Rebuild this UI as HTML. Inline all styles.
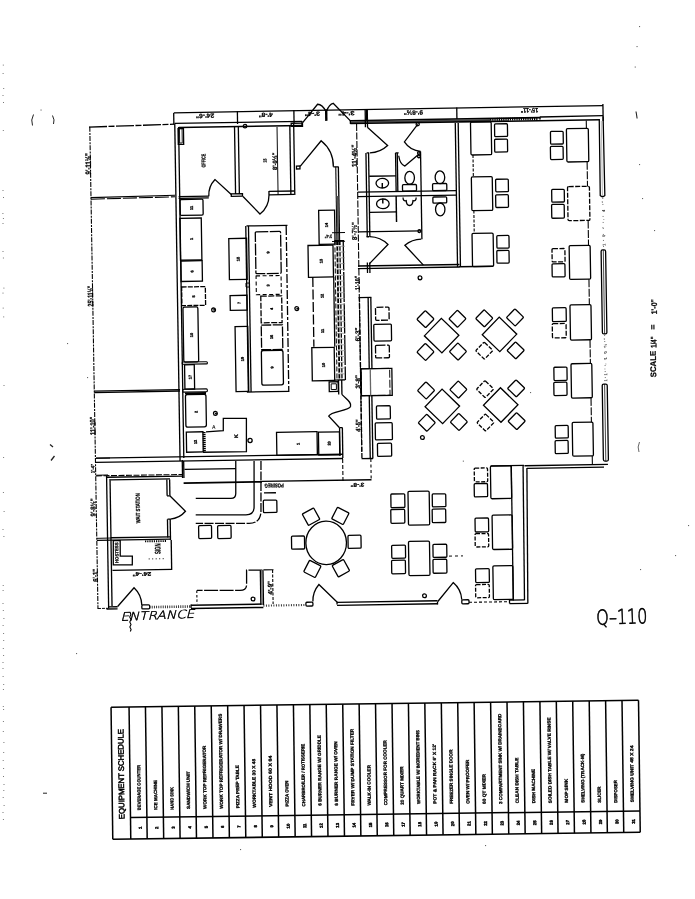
<!DOCTYPE html>
<html lang="en"><head><meta charset="utf-8"><title>Q-110 Floor Plan and Equipment Schedule</title>
<style>html,body{margin:0;padding:0;background:#fff;}body{width:695px;height:899px;overflow:hidden;font-family:"Liberation Sans",sans-serif;}svg text{white-space:pre;}</style>
</head><body>
<svg width="695" height="899" viewBox="0 0 695 899" style="display:block;filter:grayscale(1)">
<rect width="695" height="899" fill="#fff"/>
<g fill="none" stroke="#222" stroke-width="1"><rect x="2.8" y="64.6" width="1" height="1" fill="#777" stroke="none"/>
<rect x="2.6" y="73.0" width="1" height="1" fill="#777" stroke="none"/>
<rect x="3.2" y="88.0" width="1" height="1" fill="#777" stroke="none"/>
<rect x="2.5" y="95.0" width="1" height="1" fill="#777" stroke="none"/>
<rect x="3.0" y="102.0" width="1" height="1" fill="#777" stroke="none"/>
<rect x="2.8" y="130.0" width="1" height="1" fill="#777" stroke="none"/>
<rect x="2.5" y="190.0" width="1" height="1" fill="#777" stroke="none"/>
<rect x="3.0" y="197.0" width="1" height="1" fill="#777" stroke="none"/>
<rect x="2.4" y="213.0" width="1" height="1" fill="#777" stroke="none"/>
<rect x="2.9" y="218.0" width="1" height="1" fill="#777" stroke="none"/>
<rect x="2.5" y="223.0" width="1" height="1" fill="#777" stroke="none"/>
<rect x="2.5" y="251.0" width="1" height="1" fill="#777" stroke="none"/>
<rect x="2.9" y="257.5" width="1" height="1" fill="#777" stroke="none"/>
<rect x="3.4" y="287.6" width="1" height="1" fill="#777" stroke="none"/>
<rect x="2.5" y="292.6" width="1" height="1" fill="#777" stroke="none"/>
<rect x="2.7" y="307.6" width="1" height="1" fill="#777" stroke="none"/>
<rect x="3.2" y="316.4" width="1" height="1" fill="#777" stroke="none"/>
<rect x="3.5" y="385.0" width="1" height="1" fill="#777" stroke="none"/>
<rect x="3.1" y="457.0" width="1" height="1" fill="#777" stroke="none"/>
<rect x="2.9" y="492.0" width="1" height="1" fill="#777" stroke="none"/>
<rect x="3.6" y="511.0" width="1" height="1" fill="#777" stroke="none"/>
<rect x="2.5" y="529.0" width="1" height="1" fill="#777" stroke="none"/>
<rect x="3.4" y="536.0" width="1" height="1" fill="#777" stroke="none"/>
<rect x="2.7" y="585.0" width="1" height="1" fill="#777" stroke="none"/>
<rect x="2.6" y="590.0" width="1" height="1" fill="#777" stroke="none"/>
<rect x="2.5" y="603.0" width="1" height="1" fill="#777" stroke="none"/>
<rect x="2.8" y="610.0" width="1" height="1" fill="#777" stroke="none"/>
<rect x="3.4" y="618.0" width="1" height="1" fill="#777" stroke="none"/>
<rect x="2.6" y="625.0" width="1" height="1" fill="#777" stroke="none"/>
<rect x="3.1" y="633.0" width="1" height="1" fill="#777" stroke="none"/>
<rect x="3.2" y="640.0" width="1" height="1" fill="#777" stroke="none"/>
<rect x="2.8" y="648.0" width="1" height="1" fill="#777" stroke="none"/>
<rect x="3.1" y="655.0" width="1" height="1" fill="#777" stroke="none"/>
<rect x="2.5" y="662.0" width="1" height="1" fill="#777" stroke="none"/>
<rect x="2.5" y="668.0" width="1" height="1" fill="#777" stroke="none"/>
<rect x="2.6" y="676.0" width="1" height="1" fill="#777" stroke="none"/>
<rect x="3.2" y="684.0" width="1" height="1" fill="#777" stroke="none"/>
<rect x="2.9" y="689.0" width="1" height="1" fill="#777" stroke="none"/>
<rect x="2.8" y="706.0" width="1" height="1" fill="#777" stroke="none"/>
<rect x="3.1" y="709.0" width="1" height="1" fill="#777" stroke="none"/>
<rect x="2.9" y="721.0" width="1" height="1" fill="#777" stroke="none"/>
<rect x="2.8" y="731.0" width="1" height="1" fill="#777" stroke="none"/>
<rect x="3.4" y="742.0" width="1" height="1" fill="#777" stroke="none"/>
<rect x="3.2" y="752.0" width="1" height="1" fill="#777" stroke="none"/>
<rect x="2.7" y="760.0" width="1" height="1" fill="#777" stroke="none"/>
<rect x="3.1" y="768.0" width="1" height="1" fill="#777" stroke="none"/>
<rect x="3.0" y="776.0" width="1" height="1" fill="#777" stroke="none"/>
<rect x="3.5" y="784.0" width="1" height="1" fill="#777" stroke="none"/>
<rect x="3.3" y="790.0" width="1" height="1" fill="#777" stroke="none"/>
<rect x="2.7" y="797.0" width="1" height="1" fill="#777" stroke="none"/>
<rect x="3.6" y="805.0" width="1" height="1" fill="#777" stroke="none"/>
<rect x="2.5" y="812.0" width="1" height="1" fill="#777" stroke="none"/>
<rect x="2.9" y="819.0" width="1" height="1" fill="#777" stroke="none"/>
<path d="M33.5 114.5 Q30.5 120 32.5 125.5" />
<path d="M52.5 115.5 Q55 120 53.5 124" />
<path d="M50 444.5 l3 2.5 M54.5 456 l-3.5 4.5" stroke-width="1.3"/>
<path d="M636 111.5 l0.6 3.5 l0.5 3.5" stroke-width="1.1"/>
<path d="M43 793.2 h4" stroke-width="1"/>
<path d="M639.5 442 Q637 447 639 452" stroke-width="0.9" stroke="#555"/>
<rect x="67.0" y="343.0" width="1.1" height="1.1" fill="#666" stroke="none"/>
<rect x="87.0" y="377.0" width="1.1" height="1.1" fill="#666" stroke="none"/>
<rect x="40.5" y="109.5" width="1.1" height="1.1" fill="#666" stroke="none"/>
<rect x="76.0" y="653.0" width="1.1" height="1.1" fill="#666" stroke="none"/>
<rect x="639.0" y="26.0" width="1.1" height="1.1" fill="#666" stroke="none"/>
<rect x="636.5" y="46.0" width="1.1" height="1.1" fill="#666" stroke="none"/>
<rect x="634.7" y="66.5" width="1.1" height="1.1" fill="#666" stroke="none"/>
<rect x="639.0" y="164.0" width="1.1" height="1.1" fill="#666" stroke="none"/>
<rect x="642.0" y="198.0" width="1.1" height="1.1" fill="#666" stroke="none"/>
<rect x="654.0" y="230.0" width="1.1" height="1.1" fill="#666" stroke="none"/>
<rect x="240.0" y="849.0" width="1.1" height="1.1" fill="#666" stroke="none"/>
<rect x="485.0" y="845.0" width="1.1" height="1.1" fill="#666" stroke="none"/>
<rect x="688.0" y="525.0" width="1.1" height="1.1" fill="#666" stroke="none"/>
<rect x="675.0" y="555.0" width="1.1" height="1.1" fill="#666" stroke="none"/>
<rect x="640.0" y="569.0" width="1.1" height="1.1" fill="#666" stroke="none"/>
<rect x="462.8" y="460.6" width="1.1" height="1.1" fill="#666" stroke="none"/>
<rect x="530.0" y="392.0" width="1.1" height="1.1" fill="#666" stroke="none"/></g>
<g transform="rotate(-0.9 347.5 449.5)" fill="none" stroke="#000" stroke-width="1.3" stroke-linecap="butt">
<line x1="94.9" y1="122.8" x2="95.5" y2="605.1" stroke-dasharray="5 1.2 2 1" stroke-width="1.08"/>
<line x1="94.1" y1="123.1" x2="179.6" y2="121.5" stroke-dasharray="18 1.5 6 1.5"/>
<line x1="94.7" y1="193.6" x2="179.0" y2="192.6" stroke-width="1.08"/>
<line x1="94.9" y1="195.2" x2="179.0" y2="194.1" stroke-dasharray="14 2" stroke-width="1.08"/>
<line x1="95.2" y1="387.2" x2="181.0" y2="387.0"/>
<line x1="95.2" y1="388.6" x2="180.9" y2="388.4"/>
<line x1="95.9" y1="454.3" x2="109.9" y2="454.3" stroke-width="0.96"/>
<line x1="96.1" y1="471.3" x2="107.6" y2="471.2" stroke-width="0.96"/>
<line x1="95.6" y1="534.4" x2="109.6" y2="534.3" stroke-width="0.96"/>
<line x1="95.5" y1="604.6" x2="105.5" y2="604.5" stroke-dasharray="3 1" stroke-width="0.96"/>
<line x1="179.1" y1="110.1" x2="608.4" y2="109.6"/>
<line x1="179.0" y1="110.3" x2="179.0" y2="121.8"/>
<line x1="242.7" y1="109.3" x2="242.7" y2="122.3"/>
<line x1="299.2" y1="109.2" x2="299.2" y2="122.2"/>
<line x1="371.8" y1="109.3" x2="371.8" y2="121.3"/>
<line x1="462.1" y1="109.3" x2="462.1" y2="120.8"/>
<line x1="608.3" y1="108.1" x2="608.3" y2="125.1"/>
<line x1="179.7" y1="120.7" x2="307.2" y2="120.7" stroke-width="1.44"/>
<line x1="183.9" y1="124.9" x2="307.1" y2="124.9" stroke-width="1.44"/>
<line x1="307.1" y1="120.3" x2="307.1" y2="124.3"/>
<line x1="179.9" y1="121.3" x2="179.9" y2="458.4" stroke-width="1.32"/>
<line x1="183.7" y1="124.4" x2="183.7" y2="455.4" stroke-width="1.32"/>
<line x1="355.6" y1="120.8" x2="545.2" y2="120.7" stroke-width="1.56"/>
<line x1="545.2" y1="120.1" x2="608.2" y2="119.7" stroke-width="1.44"/>
<line x1="545.2" y1="119.9" x2="545.2" y2="122.7"/>
<line x1="355.5" y1="122.2" x2="495.2" y2="122.3" stroke="#444" stroke-width="1.92"/>
<line x1="355.5" y1="123.6" x2="605.1" y2="123.8" stroke-width="1.56"/>
<line x1="355.5" y1="120.1" x2="355.5" y2="124.1"/>
<line x1="495.2" y1="121.7" x2="543.2" y2="121.7" stroke-dasharray="1.2 1" stroke-width="2.88"/>
<path d="M 604.4 124.0 L 604.2 199.5 Q 606.4 202.0 608.8 199.6 L 608.3 120.6"/>
<line x1="606.4" y1="125.0" x2="606.4" y2="200.0" stroke="#888" stroke-width="0.6"/>
<rect x="604.2" y="254.0" width="4.5" height="84.0" rx="1.5"/>
<line x1="606.4" y1="254.0" x2="606.4" y2="338.1" stroke-width="0.72"/>
<rect x="603.2" y="388.1" width="5.0" height="77.0" rx="1.5"/>
<line x1="605.6" y1="388.0" x2="605.6" y2="465.1" stroke-width="0.72"/>
<line x1="606.7" y1="202.0" x2="606.7" y2="253.0" stroke-dasharray="1 5" stroke="#555" stroke-width="0.84"/>
<line x1="606.4" y1="339.1" x2="606.4" y2="387.1" stroke-dasharray="1 5" stroke="#555" stroke-width="0.84"/>
<line x1="524.2" y1="468.5" x2="607.7" y2="468.5" stroke-width="1.32"/>
<line x1="526.7" y1="471.2" x2="603.7" y2="471.2" stroke-width="1.32"/>
<line x1="522.8" y1="468.4" x2="522.1" y2="603.0" stroke-width="1.32"/>
<line x1="526.6" y1="470.8" x2="525.4" y2="606.4" stroke-width="1.32"/>
<line x1="507.1" y1="602.6" x2="522.0" y2="602.6" stroke-width="1.32"/>
<line x1="507.1" y1="606.2" x2="525.4" y2="606.2" stroke-width="1.32"/>
<line x1="507.1" y1="602.5" x2="507.1" y2="606.0"/>
<line x1="95.9" y1="454.2" x2="342.9" y2="454.2" stroke-width="1.32"/>
<line x1="95.8" y1="458.4" x2="342.9" y2="458.4" stroke-width="1.32"/>
<line x1="95.6" y1="471.9" x2="182.1" y2="471.9" stroke-dasharray="6 1.5" stroke-width="1.08"/>
<line x1="182.1" y1="457.4" x2="182.1" y2="475.4"/>
<line x1="106.6" y1="473.5" x2="182.0" y2="473.5" stroke-width="1.32"/>
<line x1="110.1" y1="476.1" x2="169.6" y2="476.1" stroke-width="1.32"/>
<line x1="106.2" y1="472.2" x2="106.2" y2="604.7" stroke-width="1.32"/>
<line x1="109.6" y1="475.3" x2="109.6" y2="602.3" stroke-width="1.32"/>
<rect x="183.1" y="126.0" width="5.4" height="15.8"/>
<rect x="184.5" y="126.0" width="2.6" height="14.4" stroke-width="0.84"/>
<line x1="239.6" y1="125.3" x2="239.6" y2="192.3" stroke-width="1.32"/>
<line x1="243.4" y1="125.3" x2="243.4" y2="192.3" stroke-width="1.32"/>
<rect x="235.3" y="192.1" width="11.2" height="2.5"/>
<circle cx="250.1" cy="124.6" r="1.8"/>
<line x1="182.6" y1="194.0" x2="212.8" y2="194.0" stroke-width="1.32"/>
<line x1="182.6" y1="195.8" x2="212.8" y2="195.8" stroke-width="1.32"/>
<path d="M235.3 192.7 L219.3 177.5 A22.2 22.2 0 0 0 212.8 194.2"/>
<line x1="294.9" y1="125.1" x2="294.9" y2="194.1" stroke-width="1.32"/>
<line x1="298.8" y1="123.2" x2="298.8" y2="194.2" stroke-width="1.32"/>
<line x1="282.1" y1="125.9" x2="282.1" y2="193.9" stroke-width="0.96"/>
<line x1="273.1" y1="190.2" x2="298.3" y2="190.2" stroke-width="1.32"/>
<line x1="273.0" y1="193.6" x2="298.2" y2="193.6" stroke-width="1.32"/>
<line x1="273.0" y1="189.8" x2="273.0" y2="193.8"/>
<path d="M247.0 194.9 L263.7 212.7 A24.4 24.4 0 0 0 273.0 193.8"/>
<rect x="300.9" y="165.3" width="3.5" height="2.9"/>
<path d="M304.6 165.6 L326.0 140.4 A33.0 33.0 0 0 1 337.8 166.6"/>
<line x1="337.8" y1="166.7" x2="343.0" y2="166.7"/>
<line x1="340.2" y1="166.7" x2="340.2" y2="244.9" stroke-width="1.08"/>
<line x1="342.8" y1="166.7" x2="342.8" y2="244.9" stroke-width="1.32"/>
<line x1="341.5" y1="195.9" x2="341.5" y2="244.9" stroke="#555" stroke-width="1.92"/>
<line x1="361.7" y1="124.2" x2="361.7" y2="452.2" stroke-dasharray="7 1.5" stroke-width="1.08"/>
<line x1="370.5" y1="110.3" x2="370.5" y2="127.6"/>
<line x1="372.6" y1="110.4" x2="372.6" y2="127.7"/>
<line x1="460.4" y1="124.7" x2="460.4" y2="268.8" stroke-width="1.32"/>
<line x1="463.3" y1="124.8" x2="463.3" y2="268.8" stroke-width="1.32"/>
<path d="M372.4 127.7 L392.4 146.1 A27.2 27.2 0 0 1 374.6 153.2"/>
<circle cx="422.8" cy="125.3" r="1.6"/>
<path d="M422.8 125.6 L409.2 142.9 A22.0 22.0 0 0 0 425.3 152.7"/>
<line x1="370.6" y1="153.3" x2="370.6" y2="237.3" stroke-width="1.32"/>
<line x1="373.2" y1="153.4" x2="373.2" y2="237.4" stroke-width="1.32"/>
<line x1="371.3" y1="153.3" x2="373.9" y2="153.3"/>
<line x1="369.9" y1="237.1" x2="372.5" y2="237.1"/>
<line x1="400.2" y1="153.8" x2="400.2" y2="192.3" stroke-width="1.32"/>
<line x1="401.9" y1="153.8" x2="401.9" y2="192.3" stroke-width="1.32"/>
<line x1="400.1" y1="153.7" x2="403.3" y2="153.7"/>
<path d="M 403.3 156.6 Q 404.5 165.4 409.3 167.0 L 423.7 155.2"/>
<circle cx="423.5" cy="154.2" r="1.3"/>
<circle cx="423.5" cy="157.6" r="1.3"/>
<line x1="425.2" y1="152.7" x2="425.2" y2="240.4" stroke-width="1.32"/>
<line x1="373.5" y1="176.6" x2="400.2" y2="176.6"/>
<ellipse cx="386.5" cy="183.8" rx="6.3" ry="4.8"/>
<line x1="386.5" y1="183.6" x2="386.4" y2="188.6" stroke-width="1.44"/>
<ellipse cx="413.9" cy="178.8" rx="4.8" ry="6.4"/>
<rect x="406.6" y="185.6" width="14.0" height="6.4" rx="1"/>
<ellipse cx="444.2" cy="178.8" rx="4.8" ry="6.4"/>
<rect x="436.7" y="185.1" width="14.2" height="7.0" rx="1"/>
<line x1="361.8" y1="192.4" x2="460.4" y2="192.4" stroke-width="1.32"/>
<line x1="361.8" y1="196.8" x2="460.3" y2="196.8" stroke-width="1.32"/>
<ellipse cx="386.7" cy="204.4" rx="6.3" ry="4.8"/>
<line x1="386.7" y1="199.4" x2="386.7" y2="204.1" stroke-width="1.44"/>
<line x1="373.6" y1="212.7" x2="400.5" y2="212.7"/>
<line x1="400.1" y1="196.8" x2="400.1" y2="222.8" stroke-width="1.44"/>
<path d="M 407.0 198.4 Q 406.9 202.4 410.1 201.6 Q 410.3 206.5 413.4 206.5 Q 416.5 206.6 416.9 201.7 Q 420.1 202.6 420.1 198.6"/>
<rect x="436.8" y="198.4" width="13.8" height="6.1" rx="1"/>
<ellipse cx="444.0" cy="210.9" rx="4.7" ry="6.4"/>
<line x1="362.0" y1="232.1" x2="424.6" y2="232.1" stroke-width="1.32"/>
<circle cx="422.8" cy="232.3" r="1.4"/>
<path d="M372.2 264.2 L391.2 245.1 A26.9 26.9 0 0 0 373.2 237.0"/>
<path d="M426.3 266.3 L408.1 246.2 A27.1 27.1 0 0 1 424.5 240.4"/>
<line x1="360.9" y1="266.2" x2="462.4" y2="266.2" stroke-width="1.44"/>
<line x1="360.8" y1="268.8" x2="462.4" y2="268.8" stroke-width="1.44"/>
<line x1="370.3" y1="262.8" x2="370.3" y2="273.3"/>
<line x1="372.7" y1="262.9" x2="372.7" y2="273.4"/>
<circle cx="422.7" cy="279.0" r="1.9"/>
<rect x="184.0" y="196.9" width="22.9" height="15.9" rx="1.2"/>
<text transform="translate(196.7 205.6) rotate(-90)" font-size="3.9" text-anchor="middle" font-weight="bold" font-family="Liberation Sans, sans-serif" fill="#000" stroke="#000" stroke-width="0.3">11</text>
<rect x="183.5" y="215.7" width="21.4" height="41.9"/>
<text transform="translate(196.2 236.6) rotate(-90)" font-size="3.9" text-anchor="middle" font-weight="bold" font-family="Liberation Sans, sans-serif" fill="#000" stroke="#000" stroke-width="0.3">1</text>
<rect x="183.8" y="258.4" width="21.3" height="20.5"/>
<text transform="translate(196.2 269.1) rotate(-90)" font-size="3.9" text-anchor="middle" font-weight="bold" font-family="Liberation Sans, sans-serif" fill="#000" stroke="#000" stroke-width="0.3">6</text>
<rect x="184.2" y="284.4" width="23.7" height="18.7" stroke-dasharray="5 1.2"/>
<text transform="translate(197.3 294.1) rotate(-90)" font-size="3.9" text-anchor="middle" font-weight="bold" font-family="Liberation Sans, sans-serif" fill="#000" stroke="#000" stroke-width="0.3">5</text>
<rect x="185.2" y="304.6" width="14.9" height="54.9" rx="1.5"/>
<text transform="translate(194.7 332.6) rotate(-90)" font-size="3.9" text-anchor="middle" font-weight="bold" font-family="Liberation Sans, sans-serif" fill="#000" stroke="#000" stroke-width="0.3">10</text>
<rect x="183.5" y="359.5" width="25.3" height="2.2" rx="1" stroke-width="1.08"/>
<rect x="185.9" y="362.3" width="9.7" height="24.3"/>
<text transform="translate(192.6 374.6) rotate(-90)" font-size="3.9" text-anchor="middle" font-weight="bold" font-family="Liberation Sans, sans-serif" fill="#000" stroke="#000" stroke-width="0.3">17</text>
<rect x="183.7" y="386.7" width="24.6" height="2.9" rx="1" stroke-width="1.08"/>
<line x1="185.9" y1="390.8" x2="206.9" y2="390.8" stroke-width="1.92"/>
<rect x="186.3" y="392.0" width="20.5" height="32.6" rx="2"/>
<text transform="translate(198.0 409.6) rotate(-90)" font-size="3.9" text-anchor="middle" font-weight="bold" font-family="Liberation Sans, sans-serif" fill="#000" stroke="#000" stroke-width="0.3">2</text>
<rect x="186.6" y="429.5" width="16.6" height="20.2"/>
<text transform="translate(197.0 439.6) rotate(-90)" font-size="3.9" text-anchor="middle" font-weight="bold" font-family="Liberation Sans, sans-serif" fill="#000" stroke="#000" stroke-width="0.3">12</text>
<line x1="204.4" y1="429.8" x2="204.4" y2="449.8" stroke-dasharray="1.2 0.8" stroke-width="2.88"/>
<path d="M 206.3 429.7 L 223.6 428.8 L 223.8 416.5 L 246.9 416.8 L 246.4 450.1 L 203.0 450.0"/>
<text transform="translate(238.1 434.3) rotate(-90)" font-size="5.2" text-anchor="middle" font-weight="bold" font-family="Liberation Sans, sans-serif" fill="#000" stroke="#000" stroke-width="0.3">K</text>
<circle cx="216.0" cy="411.3" r="1.9"/>
<text transform="translate(217.4 411.4) rotate(-90)" font-size="2.4" text-anchor="middle" font-weight="bold" font-family="Liberation Sans, sans-serif" fill="#000" stroke="#000" stroke-width="0.3">8</text>
<circle cx="250.2" cy="438.9" r="2.1"/>
<circle cx="215.8" cy="307.8" r="1.9"/>
<text transform="translate(217.2 307.8) rotate(-90)" font-size="2.4" text-anchor="middle" font-weight="bold" font-family="Liberation Sans, sans-serif" fill="#000" stroke="#000" stroke-width="0.3">8</text>
<circle cx="299.0" cy="307.8" r="1.9"/>
<text transform="translate(300.4 307.8) rotate(-90)" font-size="2.4" text-anchor="middle" font-weight="bold" font-family="Liberation Sans, sans-serif" fill="#000" stroke="#000" stroke-width="0.3">8</text>
<line x1="249.3" y1="224.4" x2="249.3" y2="390.4" stroke-width="1.32"/>
<line x1="252.0" y1="224.5" x2="252.0" y2="390.5" stroke-width="1.32"/>
<line x1="250.0" y1="224.4" x2="291.0" y2="224.4" stroke-width="1.32"/>
<line x1="289.7" y1="225.1" x2="289.7" y2="391.1" stroke-dasharray="9 2 3 2"/>
<line x1="247.8" y1="390.5" x2="289.9" y2="390.5" stroke-width="1.32"/>
<rect x="232.1" y="236.7" width="17.8" height="41.1"/>
<text transform="translate(242.4 257.3) rotate(-90)" font-size="3.9" text-anchor="middle" font-weight="bold" font-family="Liberation Sans, sans-serif" fill="#000" stroke="#000" stroke-width="0.3">18</text>
<rect x="248.6" y="281.5" width="3.4" height="4.0" stroke-width="0.96"/>
<rect x="232.5" y="293.7" width="16.9" height="14.9"/>
<text transform="translate(242.7 301.3) rotate(-90)" font-size="3.9" text-anchor="middle" font-weight="bold" font-family="Liberation Sans, sans-serif" fill="#000" stroke="#000" stroke-width="0.3">7</text>
<rect x="237.0" y="324.9" width="12.7" height="65.0"/>
<text transform="translate(245.3 357.4) rotate(-90)" font-size="3.9" text-anchor="middle" font-weight="bold" font-family="Liberation Sans, sans-serif" fill="#000" stroke="#000" stroke-width="0.3">19</text>
<rect x="258.7" y="230.4" width="25.3" height="41.9" rx="1" stroke-dasharray="12 1.5"/>
<text transform="translate(272.5 251.3) rotate(-90)" font-size="3.9" text-anchor="middle" font-weight="bold" font-family="Liberation Sans, sans-serif" fill="#000" stroke="#000" stroke-width="0.3">9</text>
<rect x="258.8" y="274.5" width="25.0" height="18.8" stroke-dasharray="4 2.5" stroke-width="1.08"/>
<text transform="translate(272.0 284.3) rotate(-90)" font-size="3.9" text-anchor="middle" font-weight="bold" font-family="Liberation Sans, sans-serif" fill="#000" stroke="#000" stroke-width="0.3">3</text>
<rect x="263.2" y="294.8" width="20.9" height="26.7" stroke-dasharray="6 1.5"/>
<text transform="translate(275.1 307.8) rotate(-90)" font-size="3.9" text-anchor="middle" font-weight="bold" font-family="Liberation Sans, sans-serif" fill="#000" stroke="#000" stroke-width="0.3">4</text>
<rect x="263.2" y="323.8" width="21.2" height="24.6" stroke-dasharray="10 1.5"/>
<text transform="translate(274.7 335.8) rotate(-90)" font-size="3.9" text-anchor="middle" font-weight="bold" font-family="Liberation Sans, sans-serif" fill="#000" stroke="#000" stroke-width="0.3">16</text>
<rect x="262.9" y="349.2" width="21.6" height="34.6" rx="2"/>
<text transform="translate(274.7 366.3) rotate(-90)" font-size="3.9" text-anchor="middle" font-weight="bold" font-family="Liberation Sans, sans-serif" fill="#000" stroke="#000" stroke-width="0.3">9</text>
<rect x="322.4" y="209.9" width="15.9" height="34.0"/>
<text transform="translate(331.4 224.7) rotate(-90)" font-size="3.9" text-anchor="middle" font-weight="bold" font-family="Liberation Sans, sans-serif" fill="#000" stroke="#000" stroke-width="0.3">14</text>
<rect x="311.2" y="244.9" width="25.0" height="31.8"/>
<text transform="translate(325.4 260.6) rotate(-90)" font-size="3.9" text-anchor="middle" font-weight="bold" font-family="Liberation Sans, sans-serif" fill="#000" stroke="#000" stroke-width="0.3">13</text>
<line x1="315.5" y1="276.5" x2="315.5" y2="346.2" stroke-dasharray="10 2.5"/>
<line x1="336.4" y1="276.8" x2="336.4" y2="346.5"/>
<text transform="translate(325.8 295.6) rotate(-90)" font-size="3.9" text-anchor="middle" font-weight="bold" font-family="Liberation Sans, sans-serif" fill="#000" stroke="#000" stroke-width="0.3">12</text>
<text transform="translate(325.8 330.6) rotate(-90)" font-size="3.9" text-anchor="middle" font-weight="bold" font-family="Liberation Sans, sans-serif" fill="#000" stroke="#000" stroke-width="0.3">11</text>
<rect x="313.4" y="347.1" width="22.4" height="33.2"/>
<text transform="translate(326.2 364.7) rotate(-90)" font-size="3.9" text-anchor="middle" font-weight="bold" font-family="Liberation Sans, sans-serif" fill="#000" stroke="#000" stroke-width="0.3">10</text>
<rect x="330.2" y="381.6" width="9.0" height="9.7"/>
<rect x="332.2" y="383.6" width="5.2" height="5.7" stroke-width="0.96"/>
<line x1="338.1" y1="240.3" x2="338.1" y2="379.8" stroke-dasharray="5 2" stroke-width="0.96"/>
<line x1="340.5" y1="240.4" x2="340.5" y2="379.9" stroke-dasharray="4.5 1.3" stroke-width="1.8"/>
<line x1="343.1" y1="240.4" x2="343.1" y2="379.9" stroke-dasharray="4.5 1.3"/>
<line x1="346.5" y1="240.5" x2="346.5" y2="380.0" stroke-dasharray="30 1.5"/>
<line x1="339.8" y1="246.2" x2="348.2" y2="246.2" stroke="#888" stroke-width="0.72"/>
<line x1="339.7" y1="252.0" x2="348.1" y2="252.0" stroke="#888" stroke-width="0.72"/>
<line x1="339.6" y1="257.8" x2="348.0" y2="257.8" stroke="#888" stroke-width="0.72"/>
<line x1="339.5" y1="263.6" x2="347.9" y2="263.6" stroke="#888" stroke-width="0.72"/>
<line x1="339.4" y1="269.4" x2="347.8" y2="269.4" stroke="#888" stroke-width="0.72"/>
<line x1="339.3" y1="275.2" x2="347.7" y2="275.2" stroke="#888" stroke-width="0.72"/>
<line x1="339.2" y1="281.0" x2="347.6" y2="281.0" stroke="#888" stroke-width="0.72"/>
<line x1="339.2" y1="286.8" x2="347.6" y2="286.8" stroke="#888" stroke-width="0.72"/>
<line x1="339.1" y1="292.6" x2="347.5" y2="292.6" stroke="#888" stroke-width="0.72"/>
<line x1="339.0" y1="298.4" x2="347.4" y2="298.4" stroke="#888" stroke-width="0.72"/>
<line x1="338.9" y1="304.2" x2="347.3" y2="304.2" stroke="#888" stroke-width="0.72"/>
<line x1="338.8" y1="310.0" x2="347.2" y2="310.0" stroke="#888" stroke-width="0.72"/>
<line x1="338.7" y1="315.8" x2="347.1" y2="315.8" stroke="#888" stroke-width="0.72"/>
<line x1="338.6" y1="321.6" x2="347.0" y2="321.6" stroke="#888" stroke-width="0.72"/>
<line x1="338.5" y1="327.4" x2="346.9" y2="327.4" stroke="#888" stroke-width="0.72"/>
<line x1="338.4" y1="333.2" x2="346.8" y2="333.2" stroke="#888" stroke-width="0.72"/>
<line x1="338.3" y1="339.0" x2="346.7" y2="339.0" stroke="#888" stroke-width="0.72"/>
<line x1="338.2" y1="344.8" x2="346.6" y2="344.8" stroke="#888" stroke-width="0.72"/>
<line x1="338.2" y1="350.6" x2="346.6" y2="350.6" stroke="#888" stroke-width="0.72"/>
<line x1="338.1" y1="356.4" x2="346.5" y2="356.4" stroke="#888" stroke-width="0.72"/>
<line x1="338.0" y1="362.2" x2="346.4" y2="362.2" stroke="#888" stroke-width="0.72"/>
<line x1="337.9" y1="368.0" x2="346.3" y2="368.0" stroke="#888" stroke-width="0.72"/>
<line x1="337.8" y1="373.8" x2="346.2" y2="373.8" stroke="#888" stroke-width="0.72"/>
<line x1="337.7" y1="379.6" x2="346.1" y2="379.6" stroke="#888" stroke-width="0.72"/>
<line x1="335.6" y1="379.9" x2="346.3" y2="379.9"/>
<line x1="337.8" y1="240.5" x2="347.3" y2="240.5"/>
<line x1="335.4" y1="232.5" x2="348.4" y2="232.5" stroke-width="1.08"/>
<line x1="335.3" y1="241.2" x2="348.3" y2="241.2" stroke-width="1.08"/>
<line x1="339.6" y1="379.9" x2="339.6" y2="394.3" stroke-width="1.32"/>
<line x1="342.8" y1="379.9" x2="342.8" y2="394.3" stroke-width="1.32"/>
<path d="M 342.7 394.3 C 346.8 399.0 352.7 402.1 351.2 406.6 C 349.6 411.0 331.6 411.2 329.3 415.8 L 339.9 427.6"/>
<line x1="339.9" y1="427.6" x2="339.9" y2="455.9" stroke-width="1.32"/>
<line x1="342.7" y1="427.6" x2="342.7" y2="457.9" stroke-width="1.32"/>
<line x1="340.1" y1="427.6" x2="342.9" y2="427.6"/>
<rect x="276.8" y="431.2" width="40.5" height="23.0"/>
<text transform="translate(299.5 443.2) rotate(-90)" font-size="3.9" text-anchor="middle" font-weight="bold" font-family="Liberation Sans, sans-serif" fill="#000" stroke="#000" stroke-width="0.3">1</text>
<rect x="318.7" y="431.7" width="21.0" height="23.0"/>
<text transform="translate(330.5 443.2) rotate(-90)" font-size="3.9" text-anchor="middle" font-weight="bold" font-family="Liberation Sans, sans-serif" fill="#000" stroke="#000" stroke-width="0.3">20</text>
<line x1="361.8" y1="297.2" x2="361.8" y2="458.7" stroke-dasharray="5 1.5"/>
<line x1="361.1" y1="297.8" x2="373.8" y2="297.8" stroke-width="1.32"/>
<line x1="370.5" y1="297.8" x2="370.5" y2="369.4" stroke-width="1.32"/>
<line x1="373.2" y1="297.9" x2="373.2" y2="369.4" stroke-width="1.32"/>
<rect x="377.7" y="307.8" width="13.5" height="13.0" rx="1" stroke-dasharray="7 1.5"/>
<rect x="375.7" y="324.8" width="17.6" height="16.7" rx="1"/>
<rect x="377.1" y="345.8" width="13.8" height="12.6" rx="1" stroke-dasharray="9 1.5"/>
<rect x="362.3" y="369.1" width="30.8" height="26.9"/>
<rect x="362.3" y="369.0" width="28.6" height="26.9" stroke-dasharray="8 2" stroke-width="0.96"/>
<line x1="371.5" y1="369.4" x2="371.5" y2="395.9" stroke="#666"/>
<line x1="370.1" y1="395.8" x2="370.1" y2="458.8" stroke-width="1.32"/>
<line x1="372.7" y1="395.9" x2="372.7" y2="458.8" stroke-width="1.32"/>
<line x1="361.4" y1="458.9" x2="372.9" y2="458.9"/>
<rect x="377.1" y="406.4" width="13.8" height="13.2" rx="1"/>
<rect x="375.6" y="423.4" width="17.0" height="17.0" rx="1"/>
<rect x="377.5" y="443.9" width="14.1" height="13.0" rx="1"/>
<circle cx="422.6" cy="438.7" r="1.9"/>
<rect x="431.2" y="324.9" width="24.4" height="24.4" transform="rotate(45 443.4 337.1)"/>
<rect x="421.4" y="314.3" width="12.2" height="12.2" transform="rotate(45 427.5 320.4)" rx="1"/>
<rect x="453.4" y="314.4" width="12.2" height="12.2" transform="rotate(45 459.5 320.5)" rx="1"/>
<rect x="420.9" y="347.1" width="12.2" height="12.2" transform="rotate(45 427.0 353.2)" rx="1"/>
<rect x="453.4" y="347.2" width="12.2" height="12.2" transform="rotate(45 459.5 353.3)" rx="1"/>
<rect x="489.1" y="324.6" width="24.4" height="24.4" transform="rotate(45 501.3 336.8)"/>
<rect x="480.2" y="314.4" width="12.2" height="12.2" transform="rotate(45 486.3 320.5)" rx="1"/>
<rect x="511.0" y="314.0" width="12.2" height="12.2" transform="rotate(45 517.1 320.1)" rx="1"/>
<rect x="479.7" y="346.7" width="12.2" height="12.2" transform="rotate(45 485.8 352.8)" rx="1" stroke-dasharray="4 1.5"/>
<rect x="511.1" y="346.9" width="12.2" height="12.2" transform="rotate(45 517.2 353.0)" rx="1"/>
<rect x="430.8" y="395.7" width="24.4" height="24.4" transform="rotate(45 443.0 407.9)"/>
<rect x="420.9" y="385.6" width="12.2" height="12.2" transform="rotate(45 427.0 391.7)" rx="1"/>
<rect x="453.2" y="385.2" width="12.2" height="12.2" transform="rotate(45 459.3 391.3)" rx="1"/>
<rect x="421.1" y="417.9" width="12.2" height="12.2" transform="rotate(45 427.2 424.0)" rx="1"/>
<rect x="453.2" y="417.6" width="12.2" height="12.2" transform="rotate(45 459.3 423.7)" rx="1"/>
<rect x="489.2" y="395.2" width="24.4" height="24.4" transform="rotate(45 501.4 407.4)"/>
<rect x="479.9" y="385.2" width="12.2" height="12.2" transform="rotate(45 486.0 391.3)" rx="1" stroke-dasharray="4 1.5"/>
<rect x="511.0" y="384.9" width="12.2" height="12.2" transform="rotate(45 517.1 391.0)" rx="1"/>
<rect x="479.8" y="418.6" width="12.2" height="12.2" transform="rotate(45 485.9 424.7)" rx="1" stroke-dasharray="4 1.5"/>
<rect x="511.0" y="417.7" width="12.2" height="12.2" transform="rotate(45 517.1 423.8)" rx="1"/>
<rect x="475.6" y="124.1" width="20.7" height="32.9" rx="1.2"/>
<rect x="475.6" y="178.9" width="20.9" height="33.8" rx="1.2"/>
<rect x="475.4" y="235.4" width="21.1" height="33.3" rx="1.2"/>
<rect x="499.6" y="126.3" width="12.9" height="12.7" rx="1"/>
<rect x="499.4" y="141.6" width="12.9" height="12.9" rx="1"/>
<rect x="499.8" y="181.6" width="12.7" height="12.6" rx="1"/>
<rect x="499.6" y="197.2" width="12.7" height="12.7" rx="1"/>
<rect x="500.1" y="238.0" width="12.2" height="12.6" rx="1"/>
<rect x="499.9" y="252.9" width="12.2" height="12.7" rx="1"/>
<line x1="477.6" y1="157.0" x2="477.6" y2="179.0" stroke-dasharray="3 1.5" stroke-width="1.08"/>
<line x1="477.6" y1="212.6" x2="477.6" y2="235.0" stroke-dasharray="3 1.5" stroke-width="1.08"/>
<line x1="461.9" y1="268.6" x2="495.9" y2="268.6" stroke-width="1.44"/>
<rect x="571.4" y="132.1" width="21.9" height="33.4" rx="1.2"/>
<rect x="571.6" y="190.1" width="21.9" height="34.1" rx="1.2" stroke-dasharray="5 1.5"/>
<rect x="572.3" y="249.1" width="21.0" height="33.8" rx="1.2"/>
<rect x="572.2" y="308.5" width="21.0" height="35.1" rx="1.2"/>
<rect x="572.3" y="367.3" width="20.8" height="34.3" rx="1.2"/>
<rect x="572.6" y="425.9" width="20.7" height="33.8" rx="1.2"/>
<rect x="555.4" y="134.7" width="12.7" height="12.7" rx="1"/>
<rect x="555.1" y="149.7" width="12.7" height="13.1" rx="1"/>
<rect x="555.7" y="192.7" width="12.6" height="12.7" rx="1"/>
<rect x="555.4" y="207.7" width="12.6" height="13.8" rx="1"/>
<rect x="555.1" y="251.9" width="12.9" height="13.3" rx="1" stroke-dasharray="5 1.5"/>
<rect x="554.9" y="267.1" width="12.9" height="13.1" rx="1"/>
<rect x="554.5" y="311.1" width="13.8" height="13.8" rx="1"/>
<rect x="554.2" y="326.9" width="13.8" height="14.3" rx="1" stroke-dasharray="5 1.5"/>
<rect x="555.1" y="370.5" width="13.1" height="13.3" rx="1"/>
<rect x="554.8" y="385.6" width="13.1" height="13.2" rx="1"/>
<rect x="555.5" y="428.9" width="13.0" height="12.5" rx="1"/>
<rect x="555.2" y="443.9" width="13.0" height="13.0" rx="1"/>
<line x1="591.4" y1="124.3" x2="591.4" y2="132.2" stroke-width="1.08"/>
<line x1="591.6" y1="165.6" x2="591.6" y2="190.2" stroke-dasharray="8 1.5" stroke-width="1.08"/>
<line x1="591.7" y1="224.3" x2="591.7" y2="249.2" stroke-dasharray="8 1.5" stroke-width="1.08"/>
<line x1="591.6" y1="283.0" x2="591.6" y2="308.6" stroke-dasharray="8 1.5" stroke-width="1.08"/>
<line x1="591.7" y1="343.7" x2="591.7" y2="367.4" stroke-dasharray="8 1.5" stroke-width="1.08"/>
<line x1="591.8" y1="401.7" x2="591.8" y2="426.0" stroke-dasharray="8 1.5" stroke-width="1.08"/>
<line x1="592.1" y1="459.8" x2="592.1" y2="468.8" stroke-dasharray="8 1.5" stroke-width="1.08"/>
<rect x="490.1" y="468.4" width="20.8" height="32.6" rx="1.2"/>
<rect x="491.0" y="517.5" width="20.1" height="34.3" rx="1.2"/>
<rect x="491.0" y="568.1" width="20.0" height="33.8" rx="1.2"/>
<rect x="473.9" y="470.1" width="13.3" height="13.8" rx="1" stroke-dasharray="4 1.5"/>
<rect x="473.6" y="485.7" width="13.3" height="13.2" rx="1"/>
<rect x="473.9" y="520.2" width="13.5" height="13.8" rx="1"/>
<rect x="473.7" y="535.7" width="13.5" height="13.3" rx="1" stroke-dasharray="4 1.5"/>
<rect x="473.6" y="570.8" width="13.7" height="13.8" rx="1"/>
<rect x="473.4" y="586.6" width="13.7" height="13.2" rx="1" stroke-dasharray="4 1.5"/>
<line x1="490.3" y1="468.1" x2="523.7" y2="468.1"/>
<line x1="511.0" y1="468.6" x2="510.9" y2="603.1"/>
<rect x="407.3" y="492.4" width="21.2" height="33.7" rx="1.2"/>
<rect x="407.0" y="542.4" width="21.0" height="34.2" rx="1.2"/>
<rect x="390.1" y="494.7" width="13.9" height="13.7" rx="1"/>
<rect x="389.8" y="510.2" width="13.9" height="13.8" rx="1"/>
<rect x="431.5" y="495.3" width="13.5" height="12.9" rx="1"/>
<rect x="431.2" y="510.4" width="13.5" height="13.6" rx="1"/>
<rect x="390.1" y="546.0" width="13.8" height="13.0" rx="1"/>
<rect x="389.8" y="561.0" width="13.8" height="13.5" rx="1"/>
<rect x="431.4" y="545.8" width="13.8" height="13.0" rx="1"/>
<rect x="431.2" y="560.8" width="13.8" height="13.8" rx="1"/>
<line x1="447.3" y1="557.7" x2="461.3" y2="557.7" stroke-dasharray="3 3" stroke-width="0.96"/>
<ellipse cx="324.7" cy="542.5" rx="20.3" ry="21.7"/>
<rect x="303.5" y="509.6" width="13.0" height="13.0" transform="rotate(-28 310.0 516.1)" rx="1"/>
<rect x="332.8" y="509.3" width="13.0" height="13.0" transform="rotate(28 339.3 515.8)" rx="1"/>
<rect x="290.1" y="535.3" width="13.0" height="13.0" transform="rotate(0 296.6 541.8)" rx="1"/>
<rect x="346.6" y="535.4" width="13.0" height="13.0" transform="rotate(0 353.1 541.9)" rx="1"/>
<rect x="304.0" y="561.9" width="13.0" height="13.0" transform="rotate(28 310.5 568.4)" rx="1"/>
<rect x="332.5" y="561.6" width="13.0" height="13.0" transform="rotate(-28 339.0 568.1)" rx="1"/>
<circle cx="422.2" cy="596.9" r="1.9"/>
<line x1="166.4" y1="476.6" x2="166.4" y2="493.0" stroke-width="1.32"/>
<line x1="169.2" y1="476.6" x2="169.2" y2="493.0" stroke-width="1.32"/>
<line x1="166.3" y1="493.0" x2="169.1" y2="493.0"/>
<path d="M169.1 493.0 L184.5 508.7 A22.1 22.1 0 0 1 169.2 516.3"/>
<line x1="166.4" y1="516.3" x2="166.4" y2="534.6" stroke-width="1.32"/>
<line x1="169.1" y1="516.3" x2="169.1" y2="537.2" stroke-width="1.32"/>
<line x1="166.5" y1="516.3" x2="169.2" y2="516.3"/>
<line x1="109.4" y1="534.0" x2="169.0" y2="534.0" stroke-width="1.32"/>
<line x1="95.6" y1="536.4" x2="169.6" y2="536.4" stroke-width="1.32"/>
<line x1="169.8" y1="537.2" x2="169.8" y2="567.2" stroke-width="1.32"/>
<line x1="110.6" y1="566.6" x2="170.1" y2="566.6" stroke-width="1.32"/>
<path d="M 111.9 537.0 L 118.8 537.1 L 118.6 552.6 L 130.7 552.8 L 130.5 561.5 L 111.5 561.2 Z"/>
<line x1="147.0" y1="555.8" x2="163.4" y2="555.8" stroke-dasharray="1 2.5" stroke-width="0.96"/>
<line x1="143.6" y1="538.2" x2="164.6" y2="538.2" stroke-dasharray="1.2 1" stroke-width="1.92"/>
<line x1="106.4" y1="603.1" x2="115.2" y2="603.1" stroke-width="1.32"/>
<line x1="104.0" y1="605.2" x2="115.1" y2="605.2" stroke-width="1.32"/>
<path d="M115.2 602.9 L131.9 584.4 A24.9 24.9 0 0 1 139.4 601.8"/>
<rect x="139.4" y="601.7" width="7.8" height="4.0" rx="1"/>
<line x1="147.1" y1="604.0" x2="188.6" y2="604.0" stroke-dasharray="0.9 1.3" stroke="#222" stroke-width="2.64"/>
<line x1="188.6" y1="602.7" x2="261.0" y2="602.7" stroke-width="1.44"/>
<line x1="188.5" y1="606.1" x2="260.9" y2="606.1" stroke-width="1.44"/>
<line x1="188.6" y1="602.1" x2="188.6" y2="605.5"/>
<path d="M 127.5 608.6 l 0.8 2.5 -1.2 2.5 1.2 2.5 -1.2 2.5 1.2 2.5 -1.2 2.5 1.2 2.5 -0.8 2" stroke-width="1.08"/>
<line x1="184.2" y1="466.8" x2="235.5" y2="466.8"/>
<path d="M 235.6 459.2 L 235.1 491.7 Q 235.0 496.6 230.2 496.6 L 195.0 496.0"/>
<line x1="183.1" y1="480.5" x2="261.5" y2="480.5" stroke-width="1.8"/>
<line x1="261.5" y1="480.1" x2="371.0" y2="480.1" stroke-width="1.32"/>
<path d="M 253.9 459.5 L 253.2 505.5 Q 253.1 513.3 245.0 513.2 L 194.7 512.4"/>
<path d="M 260.8 459.6 L 260.0 510.6 Q 258.9 522.0 247.9 521.8 L 194.6 521.0" stroke-dasharray="9 1.5"/>
<rect x="197.4" y="523.3" width="12.9" height="12.9" rx="1"/>
<rect x="216.4" y="523.6" width="13.4" height="12.9" rx="1"/>
<line x1="263.3" y1="491.6" x2="275.3" y2="491.6"/>
<rect x="262.5" y="498.9" width="13.5" height="12.4" rx="1"/>
<line x1="183.5" y1="458.4" x2="183.5" y2="475.4"/>
<line x1="342.5" y1="458.9" x2="342.5" y2="480.9" stroke-dasharray="4 2" stroke-width="1.08"/>
<line x1="370.7" y1="459.4" x2="370.7" y2="481.4" stroke-dasharray="3 2.5" stroke-width="1.08"/>
<path d="M 260.6 568.8 L 244.7 568.6 L 244.5 582.9 Q 244.4 588.8 237.8 588.7 L 194.7 588.0" stroke-dasharray="14 1.5"/>
<line x1="194.6" y1="588.0" x2="194.6" y2="601.6" stroke-dasharray="2.5 2" stroke-width="1.08"/>
<line x1="258.5" y1="568.8" x2="258.5" y2="603.6" stroke-width="1.44"/>
<line x1="261.0" y1="568.9" x2="261.0" y2="603.7" stroke-width="1.44"/>
<line x1="259.8" y1="568.8" x2="259.8" y2="603.6" stroke="#777" stroke-width="1.44"/>
<line x1="261.5" y1="568.5" x2="271.6" y2="568.5" stroke-width="1.08"/>
<line x1="270.7" y1="568.8" x2="270.7" y2="602.8" stroke-dasharray="3 1.5" stroke-width="1.08"/>
<circle cx="250.7" cy="597.5" r="1.9"/>
<line x1="261.0" y1="604.3" x2="303.5" y2="604.3" stroke-dasharray="0.9 1.6" stroke="#222" stroke-width="2.16"/>
<rect x="303.5" y="601.6" width="7.0" height="3.8" rx="1"/>
<path d="M334.6 601.8 L316.8 584.0 A25.2 25.2 0 0 0 310.5 601.0"/>
<line x1="334.6" y1="602.2" x2="435.1" y2="602.2" stroke-width="1.44"/>
<line x1="334.6" y1="605.2" x2="435.1" y2="605.2" stroke-width="1.44"/>
<line x1="334.6" y1="601.4" x2="334.6" y2="604.4"/>
<line x1="435.1" y1="603.0" x2="435.1" y2="606.0"/>
<path d="M435.4 602.9 L451.1 584.2 A24.4 24.4 0 0 1 459.4 601.4"/>
<rect x="459.4" y="601.6" width="7.2" height="4.0" rx="1"/>
<line x1="466.6" y1="604.2" x2="506.6" y2="604.2" stroke-dasharray="3 2" stroke-width="1.08"/>
<path d="M 307.8 121.9 L 323.0 103.8 Q 327.9 104.1 331.3 111.2"/>
<path d="M 355.6 121.0 L 338.6 103.1 Q 334.7 103.8 331.9 110.7"/>
<line x1="331.5" y1="109.1" x2="331.5" y2="120.6" stroke-width="2.4"/>
<rect x="296.3" y="122.4" width="11.3" height="3.2"/>
<text transform="translate(95.4 170.5) rotate(-90)" font-size="7.92" font-family="Liberation Sans, sans-serif" fill="#000" font-weight="bold" textLength="21.5" lengthAdjust="spacingAndGlyphs" stroke="#000" stroke-width="0.25">9'-11½"</text>
<text transform="translate(95.5 302.5) rotate(-90)" font-size="7.78" font-family="Liberation Sans, sans-serif" fill="#000" font-weight="bold" textLength="21.0" lengthAdjust="spacingAndGlyphs" stroke="#000" stroke-width="0.25">25'-11½"</text>
<text transform="translate(95.8 431.0) rotate(-90)" font-size="7.64" font-family="Liberation Sans, sans-serif" fill="#000" font-weight="bold" textLength="18.5" lengthAdjust="spacingAndGlyphs" stroke="#000" stroke-width="0.25">11'-10"</text>
<text transform="translate(94.2 469.3) rotate(-90)" font-size="5.00" font-family="Liberation Sans, sans-serif" fill="#000" font-weight="bold" textLength="9.5" lengthAdjust="spacingAndGlyphs" stroke="#000" stroke-width="0.25">1'-4"</text>
<text transform="translate(94.6 512.5) rotate(-90)" font-size="6.94" font-family="Liberation Sans, sans-serif" fill="#000" font-weight="bold" textLength="18.1" lengthAdjust="spacingAndGlyphs" stroke="#000" stroke-width="0.25">9'-8½"</text>
<text transform="translate(95.6 577.9) rotate(-90)" font-size="6.67" font-family="Liberation Sans, sans-serif" fill="#000" font-weight="bold" textLength="13.0" lengthAdjust="spacingAndGlyphs" stroke="#000" stroke-width="0.25">6'-1"</text>
<text transform="translate(219.6 111.4) rotate(180)" font-size="6.25" font-family="Liberation Sans, sans-serif" fill="#000" font-weight="bold" textLength="18.5" lengthAdjust="spacingAndGlyphs" stroke="#000" stroke-width="0.25">24'-6"</text>
<text transform="translate(278.0 111.6) rotate(180)" font-size="5.97" font-family="Liberation Sans, sans-serif" fill="#000" font-weight="bold" textLength="14.1" lengthAdjust="spacingAndGlyphs" stroke="#000" stroke-width="0.25">4'-8"</text>
<text transform="translate(325.3 111.2) rotate(180)" font-size="6.11" font-family="Liberation Sans, sans-serif" fill="#000" font-weight="bold" textLength="15.5" lengthAdjust="spacingAndGlyphs" stroke="#000" stroke-width="0.25">3'-4"</text>
<text transform="translate(359.8 111.2) rotate(180)" font-size="6.11" font-family="Liberation Sans, sans-serif" fill="#000" font-weight="bold" textLength="16.2" lengthAdjust="spacingAndGlyphs" stroke="#000" stroke-width="0.25">3'-4"</text>
<text transform="translate(428.2 111.5) rotate(180)" font-size="6.25" font-family="Liberation Sans, sans-serif" fill="#000" font-weight="bold" textLength="19.2" lengthAdjust="spacingAndGlyphs" stroke="#000" stroke-width="0.25">9'-8½"</text>
<text transform="translate(543.5 111.0) rotate(180)" font-size="6.39" font-family="Liberation Sans, sans-serif" fill="#000" font-weight="bold" textLength="17.6" lengthAdjust="spacingAndGlyphs" stroke="#000" stroke-width="0.25">15'-11"</text>
<text transform="translate(210.0 165.4) rotate(-90)" font-size="5.56" font-family="Liberation Sans, sans-serif" fill="#000" font-weight="bold" textLength="13.8" lengthAdjust="spacingAndGlyphs" stroke="#000" stroke-width="0.25">OFFICE</text>
<text transform="translate(281.4 168.9) rotate(-90)" font-size="6.11" font-family="Liberation Sans, sans-serif" fill="#000" font-weight="bold" textLength="17.4" lengthAdjust="spacingAndGlyphs" stroke="#000" stroke-width="0.25">8'-9½"</text>
<text transform="translate(271.1 161.2) rotate(-90)" font-size="4.58" font-family="Liberation Sans, sans-serif" fill="#000" font-weight="bold" textLength="3.8" lengthAdjust="spacingAndGlyphs" stroke="#000" stroke-width="0.25">15</text>
<text transform="translate(361.3 167.2) rotate(-90)" font-size="6.94" font-family="Liberation Sans, sans-serif" fill="#000" font-weight="bold" textLength="22.5" lengthAdjust="spacingAndGlyphs" stroke="#000" stroke-width="0.25">11'-4½"</text>
<text transform="translate(360.2 240.2) rotate(-90)" font-size="6.94" font-family="Liberation Sans, sans-serif" fill="#000" font-weight="bold" textLength="18.0" lengthAdjust="spacingAndGlyphs" stroke="#000" stroke-width="0.25">8'-7½"</text>
<text transform="translate(362.3 290.1) rotate(-90)" font-size="6.67" font-family="Liberation Sans, sans-serif" fill="#000" font-weight="bold" textLength="14.1" lengthAdjust="spacingAndGlyphs" stroke="#000" stroke-width="0.25">1'-10"</text>
<text transform="translate(361.7 341.5) rotate(-90)" font-size="6.67" font-family="Liberation Sans, sans-serif" fill="#000" font-weight="bold" textLength="13.9" lengthAdjust="spacingAndGlyphs" stroke="#000" stroke-width="0.25">6'-3"</text>
<text transform="translate(361.2 388.8) rotate(-90)" font-size="6.67" font-family="Liberation Sans, sans-serif" fill="#000" font-weight="bold" textLength="13.5" lengthAdjust="spacingAndGlyphs" stroke="#000" stroke-width="0.25">3'-8"</text>
<text transform="translate(360.9 431.9) rotate(-90)" font-size="6.67" font-family="Liberation Sans, sans-serif" fill="#000" font-weight="bold" textLength="12.5" lengthAdjust="spacingAndGlyphs" stroke="#000" stroke-width="0.25">4'-5"</text>
<text transform="translate(363.7 483.1) rotate(180)" font-size="5.56" font-family="Liberation Sans, sans-serif" fill="#000" font-weight="bold" textLength="13.8" lengthAdjust="spacingAndGlyphs" stroke="#000" stroke-width="0.25">3'-8"</text>
<text transform="translate(283.3 482.4) rotate(180)" font-size="5.56" font-family="Liberation Sans, sans-serif" fill="#000" font-weight="bold" textLength="19.3" lengthAdjust="spacingAndGlyphs" stroke="#000" stroke-width="0.25">POS/REG</text>
<text transform="translate(139.0 520.1) rotate(-90)" font-size="5.83" font-family="Liberation Sans, sans-serif" fill="#000" font-weight="bold" textLength="30.2" lengthAdjust="spacingAndGlyphs" stroke="#000" stroke-width="0.25">WAIT STATION</text>
<text transform="translate(116.8 559.5) rotate(-90)" font-size="4.72" font-family="Liberation Sans, sans-serif" fill="#000" font-weight="bold" textLength="20.7" lengthAdjust="spacingAndGlyphs" stroke="#000" stroke-width="0.25">HOSTESS</text>
<text transform="translate(159.0 551.1) rotate(-90)" font-size="8.06" font-family="Liberation Sans, sans-serif" fill="#000" font-weight="bold" textLength="10.7" lengthAdjust="spacingAndGlyphs" stroke="#000" stroke-width="0.25">SIGN</text>
<text transform="translate(149.4 568.8) rotate(180)" font-size="5.69" font-family="Liberation Sans, sans-serif" fill="#000" font-weight="bold" textLength="19.0" lengthAdjust="spacingAndGlyphs" stroke="#000" stroke-width="0.25">24'-4"</text>
<text transform="translate(270.2 593.2) rotate(-90)" font-size="6.39" font-family="Liberation Sans, sans-serif" fill="#000" font-weight="bold" textLength="13.5" lengthAdjust="spacingAndGlyphs" stroke="#000" stroke-width="0.25">4'-9"</text>
<text transform="translate(335.3 234.3) rotate(180)" font-size="5.14" font-family="Liberation Sans, sans-serif" fill="#000" font-weight="bold" textLength="7.2" lengthAdjust="spacingAndGlyphs" stroke="#000" stroke-width="0.25">3'-4"</text>
<text transform="translate(608.6 250.1) rotate(-90)" font-size="4.17" font-family="Liberation Sans, sans-serif" fill="#333" font-weight="bold" textLength="45.0" lengthAdjust="spacing" stroke="none">10'-4"</text>
<text transform="translate(608.4 385.6) rotate(-90)" font-size="4.17" font-family="Liberation Sans, sans-serif" fill="#333" font-weight="bold" textLength="43.5" lengthAdjust="spacing" stroke="none">11'-10½"</text>
<text transform="translate(214.2 426.5) rotate(0)" font-size="5" text-anchor="middle" font-family="Liberation Sans, sans-serif" stroke="none" font-weight="bold" fill="#000">A</text>
<text transform="translate(657.3 382.1) rotate(-90)" font-size="8.11" font-family="Liberation Sans, sans-serif" fill="#000" font-weight="bold" textLength="26.4" lengthAdjust="spacingAndGlyphs" stroke="#000" stroke-width="0.25">SCALE</text>
<text transform="translate(658.1 352.5) rotate(-90)" font-size="8.11" font-family="Liberation Sans, sans-serif" fill="#000" font-weight="bold" textLength="11.1" lengthAdjust="spacingAndGlyphs" stroke="#000" stroke-width="0.25">1/4"</text>
<text transform="translate(657.3 334.4) rotate(-90)" font-size="8.00" font-family="Liberation Sans, sans-serif" fill="#000" font-weight="bold" textLength="5.0" lengthAdjust="spacingAndGlyphs" stroke="#000" stroke-width="0.25">=</text>
<text transform="translate(659.1 319.2) rotate(-90)" font-size="8.11" font-family="Liberation Sans, sans-serif" fill="#000" font-weight="bold" textLength="15.3" lengthAdjust="spacingAndGlyphs" stroke="#000" stroke-width="0.25">1'-0"</text>
<text transform="translate(117.8 617.2) rotate(-1.5)" font-size="11.50" font-family="DejaVu Sans Light, sans-serif" fill="#000" font-style="italic" textLength="73.9" lengthAdjust="spacingAndGlyphs" stroke="#000" stroke-width="0.4" stroke-linejoin="round">ENTRANCE</text>
<text transform="translate(593.7 628.7) rotate(-1)" font-size="20.50" font-family="DejaVu Sans Light, sans-serif" fill="#000" textLength="51.0" lengthAdjust="spacingAndGlyphs" stroke="#000" stroke-width="0.7" stroke-linejoin="round">Q–110</text>
</g>
<g transform="rotate(-0.75 347.5 449.5)" fill="none" stroke="#000" stroke-width="1.2" stroke-linecap="butt">
<line x1="107.7" y1="704.1" x2="635.2" y2="704.1" stroke-width="1.5"/>
<line x1="107.7" y1="836.1" x2="635.2" y2="836.1" stroke-width="1.6"/>
<line x1="107.7" y1="704.1" x2="107.7" y2="836.1" stroke-width="1.5"/>
<line x1="635.2" y1="704.1" x2="635.2" y2="836.1" stroke-width="1.5"/>
<line x1="125.7" y1="814.7" x2="635.2" y2="814.7" stroke-width="1.5"/>
<line x1="125.7" y1="704.1" x2="125.7" y2="836.1" stroke-width="1.5"/>
<line x1="142.1" y1="704.1" x2="142.1" y2="836.1" stroke-width="1.5"/>
<line x1="158.6" y1="704.1" x2="158.6" y2="836.1" stroke-width="1.5"/>
<line x1="175.0" y1="704.1" x2="175.0" y2="836.1" stroke-width="1.5"/>
<line x1="191.4" y1="704.1" x2="191.4" y2="836.1" stroke-width="1.5"/>
<line x1="207.9" y1="704.1" x2="207.9" y2="836.1" stroke-width="1.5"/>
<line x1="224.3" y1="704.1" x2="224.3" y2="836.1" stroke-width="1.5"/>
<line x1="240.7" y1="704.1" x2="240.7" y2="836.1" stroke-width="1.5"/>
<line x1="257.2" y1="704.1" x2="257.2" y2="836.1" stroke-width="1.5"/>
<line x1="273.6" y1="704.1" x2="273.6" y2="836.1" stroke-width="1.5"/>
<line x1="290.1" y1="704.1" x2="290.1" y2="836.1" stroke-width="1.5"/>
<line x1="306.5" y1="704.1" x2="306.5" y2="836.1" stroke-width="1.5"/>
<line x1="322.9" y1="704.1" x2="322.9" y2="836.1" stroke-width="1.5"/>
<line x1="339.4" y1="704.1" x2="339.4" y2="836.1" stroke-width="1.5"/>
<line x1="355.8" y1="704.1" x2="355.8" y2="836.1" stroke-width="1.5"/>
<line x1="372.2" y1="704.1" x2="372.2" y2="836.1" stroke-width="1.5"/>
<line x1="388.7" y1="704.1" x2="388.7" y2="836.1" stroke-width="1.5"/>
<line x1="405.1" y1="704.1" x2="405.1" y2="836.1" stroke-width="1.5"/>
<line x1="421.5" y1="704.1" x2="421.5" y2="836.1" stroke-width="1.5"/>
<line x1="438.0" y1="704.1" x2="438.0" y2="836.1" stroke-width="1.5"/>
<line x1="454.4" y1="704.1" x2="454.4" y2="836.1" stroke-width="1.5"/>
<line x1="470.8" y1="704.1" x2="470.8" y2="836.1" stroke-width="1.5"/>
<line x1="487.3" y1="704.1" x2="487.3" y2="836.1" stroke-width="1.5"/>
<line x1="503.7" y1="704.1" x2="503.7" y2="836.1" stroke-width="1.5"/>
<line x1="520.1" y1="704.1" x2="520.1" y2="836.1" stroke-width="1.5"/>
<line x1="536.6" y1="704.1" x2="536.6" y2="836.1" stroke-width="1.5"/>
<line x1="553.0" y1="704.1" x2="553.0" y2="836.1" stroke-width="1.5"/>
<line x1="569.4" y1="704.1" x2="569.4" y2="836.1" stroke-width="1.5"/>
<line x1="585.9" y1="704.1" x2="585.9" y2="836.1" stroke-width="1.5"/>
<line x1="602.3" y1="704.1" x2="602.3" y2="836.1" stroke-width="1.5"/>
<line x1="618.7" y1="704.1" x2="618.7" y2="836.1" stroke-width="1.5"/>
<text transform="translate(119.7 816.2) rotate(-90)" font-size="7.9" text-anchor="start" font-weight="normal" font-family="Liberation Sans, sans-serif" stroke="#000" stroke-width="0.5" fill="#000" letter-spacing="-0.1">EQUIPMENT SCHEDULE</text>
<text transform="translate(136.1 807.4) rotate(-90)" font-size="4.5" font-weight="bold" font-family="Liberation Sans, sans-serif" stroke="#000" stroke-width="0.3" fill="#000" textLength="45.1" lengthAdjust="spacingAndGlyphs">BEVERAGE COUNTER</text>
<text transform="translate(136.9 825.2) rotate(-90)" font-size="4.3" text-anchor="middle" font-weight="bold" font-family="Liberation Sans, sans-serif" stroke="#000" stroke-width="0.4" fill="#000">1</text>
<text transform="translate(152.6 807.2) rotate(-90)" font-size="4.5" font-weight="bold" font-family="Liberation Sans, sans-serif" stroke="#000" stroke-width="0.3" fill="#000" textLength="29.6" lengthAdjust="spacingAndGlyphs">ICE MACHINE</text>
<text transform="translate(153.4 825.2) rotate(-90)" font-size="4.3" text-anchor="middle" font-weight="bold" font-family="Liberation Sans, sans-serif" stroke="#000" stroke-width="0.4" fill="#000">2</text>
<text transform="translate(169.0 807.4) rotate(-90)" font-size="4.5" font-weight="bold" font-family="Liberation Sans, sans-serif" stroke="#000" stroke-width="0.3" fill="#000" textLength="22.8" lengthAdjust="spacingAndGlyphs">HAND SINK</text>
<text transform="translate(169.8 825.2) rotate(-90)" font-size="4.3" text-anchor="middle" font-weight="bold" font-family="Liberation Sans, sans-serif" stroke="#000" stroke-width="0.4" fill="#000">3</text>
<text transform="translate(185.4 806.8) rotate(-90)" font-size="4.5" font-weight="bold" font-family="Liberation Sans, sans-serif" stroke="#000" stroke-width="0.3" fill="#000" textLength="37.5" lengthAdjust="spacingAndGlyphs">SANDWICH UNIT</text>
<text transform="translate(186.2 825.2) rotate(-90)" font-size="4.3" text-anchor="middle" font-weight="bold" font-family="Liberation Sans, sans-serif" stroke="#000" stroke-width="0.4" fill="#000">4</text>
<text transform="translate(201.9 807.0) rotate(-90)" font-size="4.5" font-weight="bold" font-family="Liberation Sans, sans-serif" stroke="#000" stroke-width="0.3" fill="#000" textLength="63.3" lengthAdjust="spacingAndGlyphs">WORK TOP REFRIGERATOR</text>
<text transform="translate(202.7 825.2) rotate(-90)" font-size="4.3" text-anchor="middle" font-weight="bold" font-family="Liberation Sans, sans-serif" stroke="#000" stroke-width="0.4" fill="#000">5</text>
<text transform="translate(218.3 807.2) rotate(-90)" font-size="4.5" font-weight="bold" font-family="Liberation Sans, sans-serif" stroke="#000" stroke-width="0.3" fill="#000" textLength="95.1" lengthAdjust="spacingAndGlyphs">WORK TOP REFRIGERATOR W/ DRAWERS</text>
<text transform="translate(219.1 825.2) rotate(-90)" font-size="4.3" text-anchor="middle" font-weight="bold" font-family="Liberation Sans, sans-serif" stroke="#000" stroke-width="0.4" fill="#000">6</text>
<text transform="translate(234.7 806.9) rotate(-90)" font-size="4.5" font-weight="bold" font-family="Liberation Sans, sans-serif" stroke="#000" stroke-width="0.3" fill="#000" textLength="43.3" lengthAdjust="spacingAndGlyphs">PIZZA PREP TABLE</text>
<text transform="translate(235.5 825.2) rotate(-90)" font-size="4.3" text-anchor="middle" font-weight="bold" font-family="Liberation Sans, sans-serif" stroke="#000" stroke-width="0.4" fill="#000">7</text>
<text transform="translate(251.2 806.4) rotate(-90)" font-size="4.5" font-weight="bold" font-family="Liberation Sans, sans-serif" stroke="#000" stroke-width="0.3" fill="#000" textLength="48.8" lengthAdjust="spacingAndGlyphs">WORKTABLE 30 X 48</text>
<text transform="translate(252.0 825.2) rotate(-90)" font-size="4.3" text-anchor="middle" font-weight="bold" font-family="Liberation Sans, sans-serif" stroke="#000" stroke-width="0.4" fill="#000">8</text>
<text transform="translate(267.6 806.0) rotate(-90)" font-size="4.5" font-weight="bold" font-family="Liberation Sans, sans-serif" stroke="#000" stroke-width="0.3" fill="#000" textLength="51.5" lengthAdjust="spacingAndGlyphs">VENT HOOD 60 X 84</text>
<text transform="translate(268.4 825.2) rotate(-90)" font-size="4.3" text-anchor="middle" font-weight="bold" font-family="Liberation Sans, sans-serif" stroke="#000" stroke-width="0.4" fill="#000">9</text>
<text transform="translate(284.0 805.6) rotate(-90)" font-size="4.5" font-weight="bold" font-family="Liberation Sans, sans-serif" stroke="#000" stroke-width="0.3" fill="#000" textLength="25.8" lengthAdjust="spacingAndGlyphs">PIZZA OVEN</text>
<text transform="translate(284.8 825.2) rotate(-90)" font-size="4.3" text-anchor="middle" font-weight="bold" font-family="Liberation Sans, sans-serif" stroke="#000" stroke-width="0.4" fill="#000">10</text>
<text transform="translate(300.5 805.8) rotate(-90)" font-size="4.5" font-weight="bold" font-family="Liberation Sans, sans-serif" stroke="#000" stroke-width="0.3" fill="#000" textLength="62.6" lengthAdjust="spacingAndGlyphs">CHARBROILER / ROTISSERIE</text>
<text transform="translate(301.3 825.2) rotate(-90)" font-size="4.3" text-anchor="middle" font-weight="bold" font-family="Liberation Sans, sans-serif" stroke="#000" stroke-width="0.4" fill="#000">11</text>
<text transform="translate(316.9 805.3) rotate(-90)" font-size="4.5" font-weight="bold" font-family="Liberation Sans, sans-serif" stroke="#000" stroke-width="0.3" fill="#000" textLength="70.6" lengthAdjust="spacingAndGlyphs">6 BURNER RANGE W/ GRIDDLE</text>
<text transform="translate(317.7 825.2) rotate(-90)" font-size="4.3" text-anchor="middle" font-weight="bold" font-family="Liberation Sans, sans-serif" stroke="#000" stroke-width="0.4" fill="#000">12</text>
<text transform="translate(333.3 805.5) rotate(-90)" font-size="4.5" font-weight="bold" font-family="Liberation Sans, sans-serif" stroke="#000" stroke-width="0.3" fill="#000" textLength="64.4" lengthAdjust="spacingAndGlyphs">6 BURNER RANGE W/ OVEN</text>
<text transform="translate(334.1 825.2) rotate(-90)" font-size="4.3" text-anchor="middle" font-weight="bold" font-family="Liberation Sans, sans-serif" stroke="#000" stroke-width="0.4" fill="#000">13</text>
<text transform="translate(349.8 805.7) rotate(-90)" font-size="4.5" font-weight="bold" font-family="Liberation Sans, sans-serif" stroke="#000" stroke-width="0.3" fill="#000" textLength="76.9" lengthAdjust="spacingAndGlyphs">FRYER W/ DUMP STATION FILTER</text>
<text transform="translate(350.6 825.2) rotate(-90)" font-size="4.3" text-anchor="middle" font-weight="bold" font-family="Liberation Sans, sans-serif" stroke="#000" stroke-width="0.4" fill="#000">14</text>
<text transform="translate(366.2 805.9) rotate(-90)" font-size="4.5" font-weight="bold" font-family="Liberation Sans, sans-serif" stroke="#000" stroke-width="0.3" fill="#000" textLength="40.6" lengthAdjust="spacingAndGlyphs">WALK-IN COOLER</text>
<text transform="translate(367.0 825.2) rotate(-90)" font-size="4.3" text-anchor="middle" font-weight="bold" font-family="Liberation Sans, sans-serif" stroke="#000" stroke-width="0.4" fill="#000">15</text>
<text transform="translate(382.6 805.7) rotate(-90)" font-size="4.5" font-weight="bold" font-family="Liberation Sans, sans-serif" stroke="#000" stroke-width="0.3" fill="#000" textLength="65.1" lengthAdjust="spacingAndGlyphs">COMPRESSOR FOR COOLER</text>
<text transform="translate(383.4 825.2) rotate(-90)" font-size="4.3" text-anchor="middle" font-weight="bold" font-family="Liberation Sans, sans-serif" stroke="#000" stroke-width="0.4" fill="#000">16</text>
<text transform="translate(399.1 805.4) rotate(-90)" font-size="4.5" font-weight="bold" font-family="Liberation Sans, sans-serif" stroke="#000" stroke-width="0.3" fill="#000" textLength="38.3" lengthAdjust="spacingAndGlyphs">20 QUART MIXER</text>
<text transform="translate(399.9 825.2) rotate(-90)" font-size="4.3" text-anchor="middle" font-weight="bold" font-family="Liberation Sans, sans-serif" stroke="#000" stroke-width="0.4" fill="#000">17</text>
<text transform="translate(415.5 804.8) rotate(-90)" font-size="4.5" font-weight="bold" font-family="Liberation Sans, sans-serif" stroke="#000" stroke-width="0.3" fill="#000" textLength="73.8" lengthAdjust="spacingAndGlyphs">WORKTABLE W/ INGREDIENT BINS</text>
<text transform="translate(416.3 825.2) rotate(-90)" font-size="4.3" text-anchor="middle" font-weight="bold" font-family="Liberation Sans, sans-serif" stroke="#000" stroke-width="0.4" fill="#000">18</text>
<text transform="translate(431.9 805.0) rotate(-90)" font-size="4.5" font-weight="bold" font-family="Liberation Sans, sans-serif" stroke="#000" stroke-width="0.3" fill="#000" textLength="60.1" lengthAdjust="spacingAndGlyphs">POT &amp; PAN RACK 6' X 12'</text>
<text transform="translate(432.7 825.2) rotate(-90)" font-size="4.3" text-anchor="middle" font-weight="bold" font-family="Liberation Sans, sans-serif" stroke="#000" stroke-width="0.4" fill="#000">19</text>
<text transform="translate(448.4 805.2) rotate(-90)" font-size="4.5" font-weight="bold" font-family="Liberation Sans, sans-serif" stroke="#000" stroke-width="0.3" fill="#000" textLength="54.3" lengthAdjust="spacingAndGlyphs">FREEZER SINGLE DOOR</text>
<text transform="translate(449.2 825.2) rotate(-90)" font-size="4.3" text-anchor="middle" font-weight="bold" font-family="Liberation Sans, sans-serif" stroke="#000" stroke-width="0.4" fill="#000">20</text>
<text transform="translate(464.8 805.4) rotate(-90)" font-size="4.5" font-weight="bold" font-family="Liberation Sans, sans-serif" stroke="#000" stroke-width="0.3" fill="#000" textLength="44.3" lengthAdjust="spacingAndGlyphs">OVEN W/ PROOFER</text>
<text transform="translate(465.6 825.2) rotate(-90)" font-size="4.3" text-anchor="middle" font-weight="bold" font-family="Liberation Sans, sans-serif" stroke="#000" stroke-width="0.4" fill="#000">21</text>
<text transform="translate(481.2 805.7) rotate(-90)" font-size="4.5" font-weight="bold" font-family="Liberation Sans, sans-serif" stroke="#000" stroke-width="0.3" fill="#000" textLength="30.0" lengthAdjust="spacingAndGlyphs">60 QT MIXER</text>
<text transform="translate(482.0 825.2) rotate(-90)" font-size="4.3" text-anchor="middle" font-weight="bold" font-family="Liberation Sans, sans-serif" stroke="#000" stroke-width="0.4" fill="#000">22</text>
<text transform="translate(497.7 805.9) rotate(-90)" font-size="4.5" font-weight="bold" font-family="Liberation Sans, sans-serif" stroke="#000" stroke-width="0.3" fill="#000" textLength="90.1" lengthAdjust="spacingAndGlyphs">3 COMPARTMENT SINK W/ DRAINBOARD</text>
<text transform="translate(498.5 825.2) rotate(-90)" font-size="4.3" text-anchor="middle" font-weight="bold" font-family="Liberation Sans, sans-serif" stroke="#000" stroke-width="0.4" fill="#000">23</text>
<text transform="translate(514.1 805.4) rotate(-90)" font-size="4.5" font-weight="bold" font-family="Liberation Sans, sans-serif" stroke="#000" stroke-width="0.3" fill="#000" textLength="45.6" lengthAdjust="spacingAndGlyphs">CLEAN DISH TABLE</text>
<text transform="translate(514.9 825.2) rotate(-90)" font-size="4.3" text-anchor="middle" font-weight="bold" font-family="Liberation Sans, sans-serif" stroke="#000" stroke-width="0.4" fill="#000">24</text>
<text transform="translate(530.6 805.6) rotate(-90)" font-size="4.5" font-weight="bold" font-family="Liberation Sans, sans-serif" stroke="#000" stroke-width="0.3" fill="#000" textLength="34.3" lengthAdjust="spacingAndGlyphs">DISH MACHINE</text>
<text transform="translate(531.4 825.2) rotate(-90)" font-size="4.3" text-anchor="middle" font-weight="bold" font-family="Liberation Sans, sans-serif" stroke="#000" stroke-width="0.4" fill="#000">25</text>
<text transform="translate(547.0 805.8) rotate(-90)" font-size="4.5" font-weight="bold" font-family="Liberation Sans, sans-serif" stroke="#000" stroke-width="0.3" fill="#000" textLength="85.7" lengthAdjust="spacingAndGlyphs">SOILED DISH TABLE W/ VALVE RINSE</text>
<text transform="translate(547.8 825.2) rotate(-90)" font-size="4.3" text-anchor="middle" font-weight="bold" font-family="Liberation Sans, sans-serif" stroke="#000" stroke-width="0.4" fill="#000">26</text>
<text transform="translate(563.4 805.5) rotate(-90)" font-size="4.5" font-weight="bold" font-family="Liberation Sans, sans-serif" stroke="#000" stroke-width="0.3" fill="#000" textLength="23.8" lengthAdjust="spacingAndGlyphs">MOP SINK</text>
<text transform="translate(564.2 825.2) rotate(-90)" font-size="4.3" text-anchor="middle" font-weight="bold" font-family="Liberation Sans, sans-serif" stroke="#000" stroke-width="0.4" fill="#000">27</text>
<text transform="translate(579.9 805.7) rotate(-90)" font-size="4.5" font-weight="bold" font-family="Liberation Sans, sans-serif" stroke="#000" stroke-width="0.3" fill="#000" textLength="48.9" lengthAdjust="spacingAndGlyphs">SHELVING (TRACK-M)</text>
<text transform="translate(580.7 825.2) rotate(-90)" font-size="4.3" text-anchor="middle" font-weight="bold" font-family="Liberation Sans, sans-serif" stroke="#000" stroke-width="0.4" fill="#000">28</text>
<text transform="translate(596.3 806.0) rotate(-90)" font-size="4.5" font-weight="bold" font-family="Liberation Sans, sans-serif" stroke="#000" stroke-width="0.3" fill="#000" textLength="16.3" lengthAdjust="spacingAndGlyphs">SLICER</text>
<text transform="translate(597.1 825.2) rotate(-90)" font-size="4.3" text-anchor="middle" font-weight="bold" font-family="Liberation Sans, sans-serif" stroke="#000" stroke-width="0.4" fill="#000">29</text>
<text transform="translate(612.7 806.2) rotate(-90)" font-size="4.5" font-weight="bold" font-family="Liberation Sans, sans-serif" stroke="#000" stroke-width="0.3" fill="#000" textLength="22.6" lengthAdjust="spacingAndGlyphs">DISPOSER</text>
<text transform="translate(613.5 825.2) rotate(-90)" font-size="4.3" text-anchor="middle" font-weight="bold" font-family="Liberation Sans, sans-serif" stroke="#000" stroke-width="0.4" fill="#000">30</text>
<text transform="translate(629.2 805.9) rotate(-90)" font-size="4.5" font-weight="bold" font-family="Liberation Sans, sans-serif" stroke="#000" stroke-width="0.3" fill="#000" textLength="56.6" lengthAdjust="spacingAndGlyphs">SHELVING UNIT 48 X 24</text>
<text transform="translate(630.0 825.2) rotate(-90)" font-size="4.3" text-anchor="middle" font-weight="bold" font-family="Liberation Sans, sans-serif" stroke="#000" stroke-width="0.4" fill="#000">31</text>
</g>
</svg>
</body></html>
